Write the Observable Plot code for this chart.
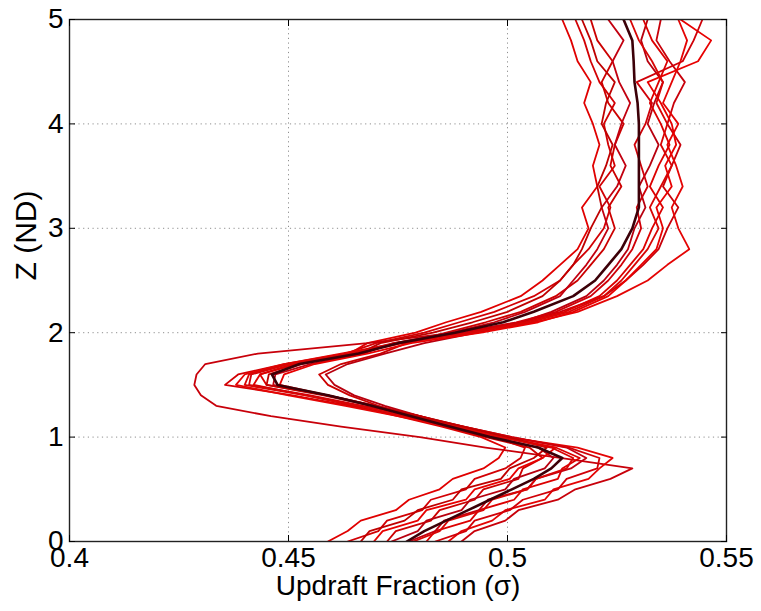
<!DOCTYPE html>
<html>
<head>
<meta charset="utf-8">
<script src="https://cdn.jsdelivr.net/npm/d3@7"></script>
<script src="https://cdn.jsdelivr.net/npm/@observablehq/plot@0.6"></script>
<style>
  html, body { margin: 0; padding: 0; background: #ffffff; }
  #chart { width: 761px; height: 611px; }
</style>
</head>
<body>
<div id="chart"></div>
<script>
// Height levels (ND) shared by every profile
const zLevels = [0, 0.1, 0.2, 0.3, 0.4, 0.5, 0.6, 0.7, 0.8, 0.9, 1.0, 1.1, 1.2, 1.3, 1.4, 1.5, 1.6, 1.7, 1.8, 1.9, 2.0, 2.1, 2.2, 2.35, 2.5, 2.65, 2.8, 3.0, 3.2, 3.4, 3.6, 3.8, 4.0, 4.2, 4.4, 4.6, 4.8, 5.0];

// Individual realisations (updraft fraction at each level)
const run1  = [.459,.4635,.4665,.4745,.4775,.4845,.4875,.4945,.498,.4995,.494,.485,.475,.465,.454,.442,.4435,.451,.464,.468,.479,.486,.494,.503,.508,.512,.516,.5185,.517,.5205,.5195,.521,.5195,.5175,.519,.516,.5145,.5125];
const run2  = [.4635,.4705,.4725,.4805,.4825,.4905,.4925,.4995,.503,.504,.497,.487,.476,.464,.451,.4355,.4385,.449,.463,.470,.481,.489,.497,.506,.512,.515,.5185,.522,.5235,.521,.5245,.523,.522,.5245,.521,.519,.5175,.5155];
const run3  = [.4895,.4925,.4995,.5025,.5115,.5155,.5235,.5285,.512,.495,.480,.462,.446,.4335,.430,.4285,.429,.431,.443,.468,.488,.503,.512,.522,.527,.531,.5345,.5365,.539,.5355,.5375,.5395,.5365,.538,.5405,.537,.534,.535];
const run4  = [.4865,.4895,.4965,.4995,.5085,.5105,.5185,.521,.524,.516,.500,.487,.475,.463,.450,.438,.440,.449,.462,.475,.492,.506,.516,.525,.532,.5365,.5415,.539,.5375,.540,.5385,.5365,.539,.5355,.5375,.5395,.541,.539];
const run5  = [.4725,.4745,.4825,.4845,.4925,.4945,.5025,.5035,.508,.505,.495,.486,.478,.4705,.464,.459,.457,.462,.471,.477,.486,.495,.503,.511,.516,.519,.522,.5245,.523,.526,.5235,.5245,.5265,.523,.5215,.524,.5205,.519];
const run6  = [.4735,.4795,.4815,.4895,.4915,.4995,.5015,.5085,.5105,.507,.497,.488,.480,.472,.465,.4605,.4585,.4635,.472,.481,.493,.503,.510,.518,.522,.525,.5275,.529,.5315,.530,.5325,.5345,.532,.5335,.5355,.532,.5305,.532];
const run7  = [.4815,.4835,.4915,.4935,.5015,.5035,.5115,.5125,.5165,.511,.499,.489,.480,.470,.459,.445,.4435,.452,.465,.476,.491,.504,.513,.521,.525,.528,.531,.533,.5355,.5325,.5345,.537,.535,.5325,.5345,.5365,.533,.531];
const run8  = [.4775,.4835,.4855,.4935,.4955,.5045,.5065,.5145,.518,.5135,.501,.490,.480,.470,.459,.4465,.447,.455,.467,.474,.487,.497,.504,.512,.515,.518,.5205,.523,.5215,.525,.527,.5245,.526,.528,.5255,.524,.5265,.523];
const run9  = [.4695,.4715,.4795,.4815,.4905,.4925,.5005,.5025,.508,.511,.499,.488,.479,.469,.459,.448,.449,.456,.468,.478,.494,.507,.515,.523,.527,.5305,.534,.5355,.534,.5375,.536,.5385,.5375,.535,.532,.5435,.5465,.5395];
const run10 = [.4835,.4905,.4925,.5005,.5035,.5115,.5135,.5205,.521,.514,.501,.490,.479,.467,.455,.441,.4415,.450,.464,.474,.490,.502,.511,.519,.523,.526,.5285,.5305,.5295,.532,.5305,.529,.5315,.533,.5295,.540,.5425,.5445];
const run11 = [.4665,.4685,.4765,.4795,.4875,.4895,.4985,.5005,.506,.509,.500,.490,.480,.469,.458,.445,.4455,.453,.466,.471,.483,.492,.500,.508,.512,.515,.517,.519,.5215,.5205,.5225,.524,.5215,.5225,.5245,.5205,.519,.517];
const run12 = [.4785,.4845,.4865,.4945,.4965,.5045,.5065,.5135,.515,.510,.498,.488,.477,.466,.454,.440,.441,.450,.464,.475,.492,.505,.514,.522,.526,.529,.532,.5345,.5325,.535,.5375,.535,.5365,.534,.5355,.533,.530,.528];

// Ensemble mean (dark curve)
const meanProfile = [.477,.481,.486,.491,.496,.501,.506,.510,.5125,.507,.496,.487,.478,.469,.459,.4475,.4462,.4525,.466,.475,.488,.499,.506,.515,.520,.523,.526,.5285,.530,.530,.530,.530,.530,.5297,.529,.5288,.5285,.5265];

const runs = [run1, run2, run3, run4, run5, run6, run7, run8, run9, run10, run11, run12];
const runColors = ["#e00000","#d20004","#c8000a","#e40404","#cc0000","#b8000f","#dc0000","#c20010","#e80000","#d00008","#bf0000","#d80505"];
const meanColor = "#3c0008";

const xTicks = [0.4, 0.45, 0.5, 0.55];
const yTicks = [0, 1, 2, 3, 4, 5];
const xGrid = [0.45, 0.5];
const yGrid = [1, 2, 3, 4];
const xLabel = "Updraft Fraction (σ)";
const yLabel = "Z (ND)";

const toRows = (arr) => arr.map((v, i) => ({sigma: v, z: zLevels[i]}));

const lineMarks = runs.map((r, i) =>
  Plot.line(toRows(r), {x: "sigma", y: "z", stroke: runColors[i], strokeWidth: 1.8, strokeLinejoin: "round", clip: true})
);

const chart = Plot.plot({
  width: 761,
  height: 611,
  marginLeft: 69,
  marginRight: 35,
  marginTop: 19,
  marginBottom: 70,
  style: {background: "#ffffff", color: "#000", fontFamily: "'Liberation Sans', Arial, sans-serif", fontSize: "28px"},
  x: {domain: [0.4, 0.55], label: null},
  y: {domain: [0, 5], label: null},
  marks: [
    Plot.gridX(xGrid, {stroke: "#444", strokeOpacity: 0.6, strokeDasharray: "1.2,3.5", strokeWidth: 1}),
    Plot.gridY(yGrid, {stroke: "#444", strokeOpacity: 0.6, strokeDasharray: "1.2,3.5", strokeWidth: 1}),
    ...lineMarks,
    Plot.line(toRows(meanProfile), {x: "sigma", y: "z", stroke: meanColor, strokeWidth: 2.6, strokeLinejoin: "round", clip: true}),
    Plot.frame({stroke: "#222", strokeWidth: 1.4}),
    Plot.axisX({ticks: xTicks, tickSize: 0, tickPadding: 6, tickFormat: d => String(d), fontSize: 28}),
    Plot.axisY({ticks: yTicks, tickSize: 0, tickPadding: 6, tickFormat: d => String(d), fontSize: 28}),
    Plot.axisX({ticks: xTicks, anchor: "bottom", tickSize: -6, tickFormat: () => ""}),
    Plot.axisX({ticks: xTicks, anchor: "top", tickSize: -6, tickFormat: () => ""}),
    Plot.axisY({ticks: yTicks, anchor: "left", tickSize: -6, tickFormat: () => ""}),
    Plot.axisY({ticks: yTicks, anchor: "right", tickSize: -6, tickFormat: () => ""}),
    Plot.text([xLabel], {frameAnchor: "bottom", dy: 53, fontSize: 28, fill: "#000"}),
    Plot.text([yLabel], {frameAnchor: "left", rotate: -90, dx: -43, fontSize: 30, fill: "#000"})
  ]
});
document.getElementById("chart").appendChild(chart);
</script>
</body>
</html>
